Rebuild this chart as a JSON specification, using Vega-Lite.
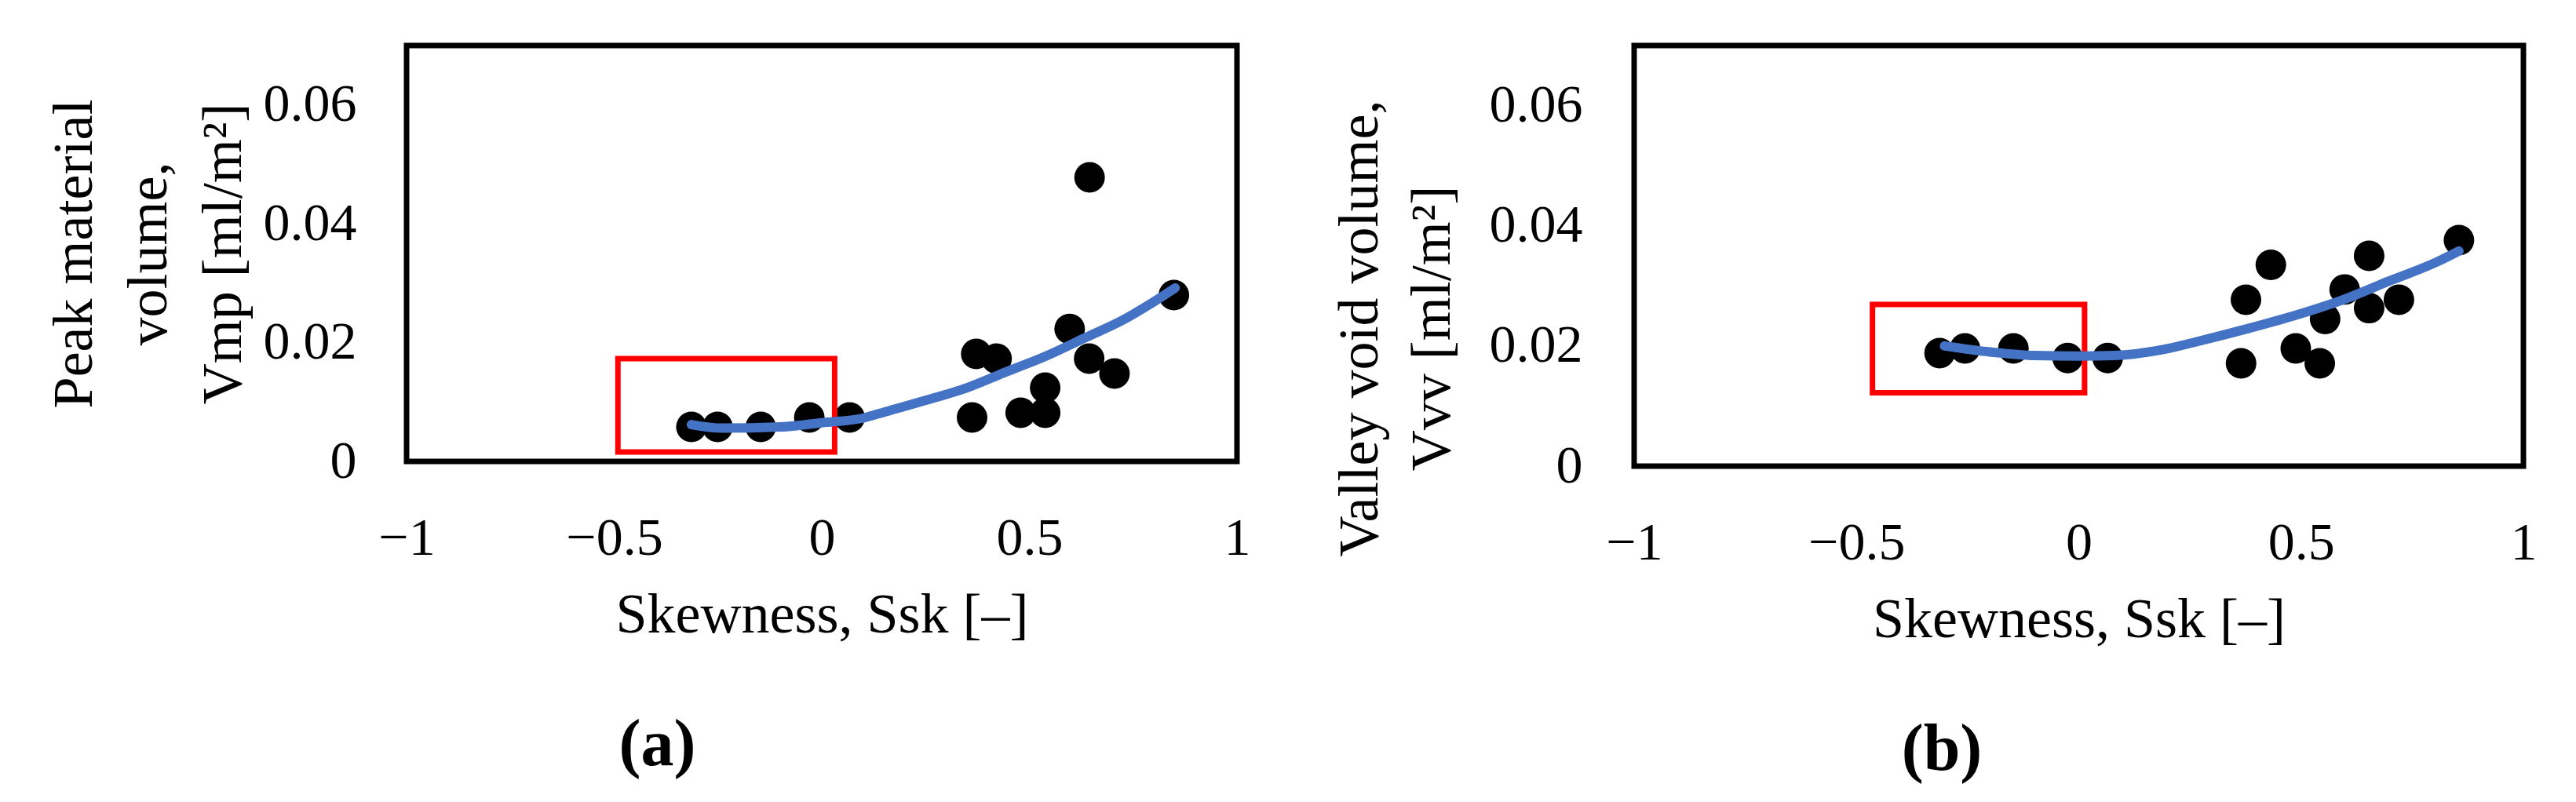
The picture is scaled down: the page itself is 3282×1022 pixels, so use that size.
{
  "$schema": "https://vega.github.io/schema/vega-lite/v6.json",
  "background": "white",
  "padding": {"left": 54, "top": 54, "right": 5, "bottom": 5},
  "spacing": 95,
  "config": {
    "font": "Liberation Serif",
    "view": {"stroke": "black", "strokeWidth": 7},
    "axis": {
      "labelFont": "Liberation Serif",
      "titleFont": "Liberation Serif",
      "labelFontSize": 68,
      "titleFontSize": 72,
      "labelColor": "black",
      "titleColor": "black",
      "titleFontWeight": "normal",
      "ticks": false,
      "domain": false,
      "grid": false,
      "labelFlush": false,
      "labelOverlap": false
    },
    "title": {"font": "Liberation Serif", "fontSize": 84, "color": "black", "fontWeight": "bold"}
  },
  "datasets": {
    "pointsA": [
      {"ssk": -0.314, "v": 0.0058},
      {"ssk": -0.251, "v": 0.0058},
      {"ssk": -0.147, "v": 0.0058},
      {"ssk": -0.030, "v": 0.0074},
      {"ssk": 0.067, "v": 0.0074},
      {"ssk": 0.362, "v": 0.0074},
      {"ssk": 0.372, "v": 0.0181},
      {"ssk": 0.421, "v": 0.0173},
      {"ssk": 0.479, "v": 0.0082},
      {"ssk": 0.538, "v": 0.0082},
      {"ssk": 0.538, "v": 0.0124},
      {"ssk": 0.597, "v": 0.0223},
      {"ssk": 0.644, "v": 0.0173},
      {"ssk": 0.645, "v": 0.0478},
      {"ssk": 0.705, "v": 0.0148},
      {"ssk": 0.848, "v": 0.0280}
    ],
    "fitA": [
      {"ssk": -0.314, "v": 0.0062},
      {"ssk": -0.24, "v": 0.0056},
      {"ssk": -0.1, "v": 0.0058},
      {"ssk": 0.0, "v": 0.0065},
      {"ssk": 0.1, "v": 0.0073},
      {"ssk": 0.155, "v": 0.0084},
      {"ssk": 0.256, "v": 0.0104},
      {"ssk": 0.35, "v": 0.0124},
      {"ssk": 0.445, "v": 0.0151},
      {"ssk": 0.539, "v": 0.0177},
      {"ssk": 0.634, "v": 0.0208},
      {"ssk": 0.728, "v": 0.0239},
      {"ssk": 0.791, "v": 0.0265},
      {"ssk": 0.851, "v": 0.0292}
    ],
    "boxA": [{"ssk": -0.491, "ssk2": 0.031, "v": 0.0016, "v2": 0.0173}],
    "pointsB": [
      {"ssk": -0.313, "v": 0.0188},
      {"ssk": -0.256, "v": 0.0196},
      {"ssk": -0.147, "v": 0.0196},
      {"ssk": -0.025, "v": 0.0180},
      {"ssk": 0.065, "v": 0.0180},
      {"ssk": 0.365, "v": 0.0171},
      {"ssk": 0.376, "v": 0.0277},
      {"ssk": 0.432, "v": 0.0335},
      {"ssk": 0.488, "v": 0.0196},
      {"ssk": 0.542, "v": 0.0171},
      {"ssk": 0.554, "v": 0.0245},
      {"ssk": 0.598, "v": 0.0294},
      {"ssk": 0.653, "v": 0.0350},
      {"ssk": 0.653, "v": 0.0263},
      {"ssk": 0.720, "v": 0.0277},
      {"ssk": 0.855, "v": 0.0376}
    ],
    "fitB": [
      {"ssk": -0.302, "v": 0.0200},
      {"ssk": -0.2, "v": 0.0190},
      {"ssk": -0.1, "v": 0.0184},
      {"ssk": 0.0, "v": 0.0183},
      {"ssk": 0.08, "v": 0.0184},
      {"ssk": 0.19, "v": 0.0194},
      {"ssk": 0.27, "v": 0.0208},
      {"ssk": 0.376, "v": 0.0228},
      {"ssk": 0.483, "v": 0.0250},
      {"ssk": 0.591, "v": 0.0276},
      {"ssk": 0.698, "v": 0.0308},
      {"ssk": 0.806, "v": 0.0340},
      {"ssk": 0.855, "v": 0.0358}
    ],
    "boxB": [{"ssk": -0.464, "ssk2": 0.013, "v": 0.0122, "v2": 0.0269}]
  },
  "hconcat": [
    {
      "width": 1058,
      "height": 530,
      "title": {"text": "(a)", "orient": "bottom", "anchor": "middle", "frame": "bounds", "offset": 90, "dx": 12},
      "encoding": {
        "x": {
          "field": "ssk", "type": "quantitative",
          "scale": {"domain": [-1, 1], "nice": false, "zero": false},
          "axis": {"title": "Skewness, Ssk [–]", "values": [-1, -0.5, 0, 0.5, 1], "format": "~g", "labelPadding": 64, "titlePadding": 28}
        },
        "y": {
          "field": "v", "type": "quantitative",
          "scale": {"domain": [0, 0.07], "nice": false},
          "axis": {"title": ["Peak material", "volume,", "Vmp [ml/m²]"], "values": [0, 0.02, 0.04, 0.06], "format": "~g", "labelPadding": 64, "titlePadding": 14, "titleLineHeight": 95}
        }
      },
      "layer": [
        {"data": {"name": "pointsA"}, "mark": {"type": "circle", "size": 1520, "color": "black", "opacity": 1}},
        {"data": {"name": "boxA"}, "mark": {"type": "rect", "fill": "transparent", "stroke": "#FF0000", "strokeWidth": 7},
         "encoding": {"x2": {"field": "ssk2"}, "y2": {"field": "v2"}}},
        {"data": {"name": "fitA"}, "mark": {"type": "line", "color": "#4472C4", "strokeWidth": 12, "strokeCap": "round", "interpolate": "monotone"}}
      ]
    },
    {
      "width": 1133,
      "height": 536,
      "title": {"text": "(b)", "orient": "bottom", "anchor": "middle", "frame": "bounds", "offset": 90, "dx": 10},
      "encoding": {
        "x": {
          "field": "ssk", "type": "quantitative",
          "scale": {"domain": [-1, 1], "nice": false, "zero": false},
          "axis": {"title": "Skewness, Ssk [–]", "values": [-1, -0.5, 0, 0.5, 1], "format": "~g", "labelPadding": 64, "titlePadding": 28}
        },
        "y": {
          "field": "v", "type": "quantitative",
          "scale": {"domain": [0, 0.07], "nice": false},
          "axis": {"title": ["Valley void volume,", "Vvv [ml/m²]"], "values": [0, 0.02, 0.04, 0.06], "format": "~g", "labelPadding": 66, "titlePadding": 36, "titleLineHeight": 92, "titleY": 360}
        }
      },
      "layer": [
        {"data": {"name": "pointsB"}, "mark": {"type": "circle", "size": 1520, "color": "black", "opacity": 1}},
        {"data": {"name": "boxB"}, "mark": {"type": "rect", "fill": "transparent", "stroke": "#FF0000", "strokeWidth": 7},
         "encoding": {"x2": {"field": "ssk2"}, "y2": {"field": "v2"}}},
        {"data": {"name": "fitB"}, "mark": {"type": "line", "color": "#4472C4", "strokeWidth": 12, "strokeCap": "round", "interpolate": "monotone"}}
      ]
    }
  ]
}
